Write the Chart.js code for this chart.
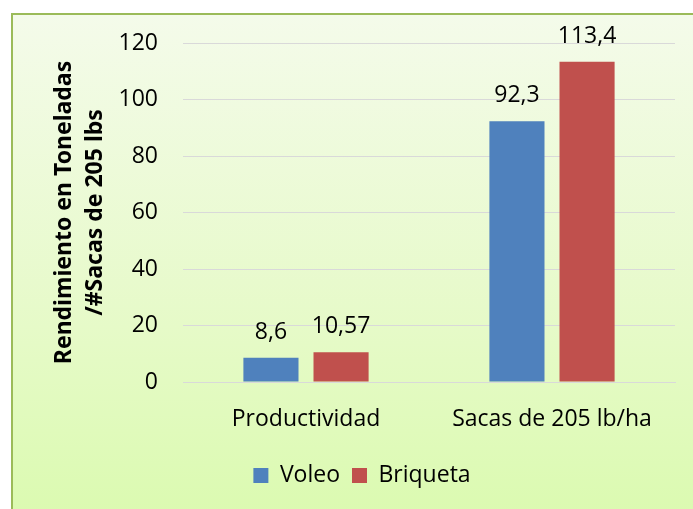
<!DOCTYPE html>
<html>
<head>
<meta charset="utf-8">
<script src="https://cdn.jsdelivr.net/npm/chart.js@4.4.1/dist/chart.umd.min.js"></script>
<style>
  html, body { margin: 0; padding: 0; background: #fff; overflow: hidden; }
  #frame {
    position: absolute; left: 11px; top: 13px; width: 720px; height: 520px;
    border-left: 2px solid #9BBB59; border-top: 2px solid #9BBB59;
    background: linear-gradient(to bottom, #F4FBEA 0%, #E6FAC8 60%, #DAFAAE 100%);
  }
  #wrap { position: absolute; left: 0; top: 0; width: 693px; height: 509px; }
</style>
</head>
<body>
<div id="frame"></div>
<div id="wrap"><canvas id="chart" width="693" height="509"></canvas></div>
<script>
const categories = ["Productividad", "Sacas de 205 lb/ha"];
const voleo = [8.6, 92.3];
const briqueta = [10.57, 113.4];
const voleoLabels = ["8,6", "92,3"];
const briquetaLabels = ["10,57", "113,4"];
const yTitle = ["Rendimiento en Toneladas", "/#Sacas de 205 lbs"];

const FONT = "'Open Sans', sans-serif";

// value labels above the bars
const barLabels = {
  id: "barLabels",
  afterDatasetsDraw(chart) {
    const ctx = chart.ctx;
    const texts = [voleoLabels, briquetaLabels];
    ctx.save();
    ctx.font = "23px " + FONT;
    ctx.fillStyle = "#000";
    ctx.textAlign = "center";
    ctx.textBaseline = "alphabetic";
    chart.data.datasets.forEach((ds, i) => {
      chart.getDatasetMeta(i).data.forEach((bar, j) => {
        ctx.fillText(texts[i][j], bar.x, bar.y - 19);
      });
    });
    ctx.restore();
  },
};

new Chart(document.getElementById("chart"), {
  type: "bar",
  data: {
    labels: categories,
    datasets: [
      { label: "Voleo", data: voleo, backgroundColor: "#4F81BD" },
      { label: "Briqueta", data: briqueta, backgroundColor: "#C0504D" },
    ],
  },
  options: {
    responsive: false,
    animation: false,
    devicePixelRatio: 1,
    categoryPercentage: 0.57,
    barPercentage: 0.786,
    layout: { padding: { left: 49, right: 18, top: 43, bottom: 12 } },
    plugins: {
      tooltip: { enabled: false },
      legend: {
        position: "bottom",
        labels: {
          color: "#000",
          font: { family: FONT, size: 23 },
          boxWidth: 15,
          boxHeight: 15,
          padding: 12,
        },
      },
    },
    scales: {
      x: {
        grid: { display: false },
        border: { display: true, color: "#D9D9D9", width: 1 },
        ticks: { color: "#000", font: { family: FONT, size: 23 }, padding: 16 },
        afterFit(s) { s.height = 70; },
      },
      y: {
        min: 0,
        max: 120,
        ticks: { stepSize: 20, color: "#000", font: { family: FONT, size: 23 }, padding: 25 },
        grid: { color: "#D9D9D9", drawTicks: false },
        border: { display: false },
        title: {
          display: true,
          text: yTitle,
          color: "#000",
          font: { family: "'Noto Sans', 'Open Sans', sans-serif", size: 23, weight: "bold", lineHeight: 1.35 },
          padding: 0,
        },
        afterFit(s) { s.width = 134; },
      },
    },
  },
  plugins: [barLabels],
});
</script>
</body>
</html>
